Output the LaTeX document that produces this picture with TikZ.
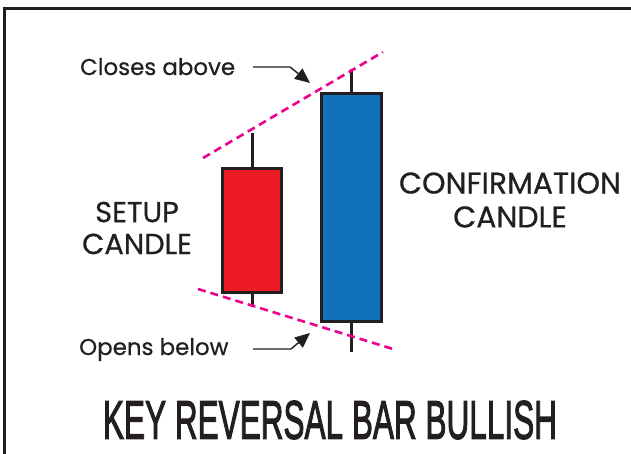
\documentclass[tikz,border=0pt]{standalone}
\usepackage{fontspec}
\usepackage{graphicx}
\setmainfont{Poppins}[FakeBold=0.6]
\newfontfamily\titlefont{Liberation Sans}[FakeBold=2.5]
\usetikzlibrary{arrows.meta}
\definecolor{ink}{HTML}{231F20}
\definecolor{candlered}{HTML}{ED1C24}
\definecolor{candleblue}{HTML}{1172BA}
\definecolor{trend}{HTML}{EC008C}
\begin{document}
\begin{tikzpicture}[x=1bp,y=-1bp,
  body/.style={draw=ink, line width=3bp, inner sep=0pt},
  wick/.style={draw=ink, line width=3bp},
  trendline/.style={draw=trend, line width=2.6bp, dash pattern=on 8bp off 5bp},
  pointer/.style={draw=ink, line width=1.4bp, line join=round, -{Triangle[length=15bp,width=13bp]}},
  smalllabel/.style={text=ink, inner sep=0pt, font=\fontsize{23}{27}\selectfont},
  biglabel/.style={text=ink, inner sep=0pt, align=center}]
\useasboundingbox (0,0) rectangle (631,454);
% frame
\draw[ink, line width=2.5bp] (4.5,454) -- (4.5,8.5) -- (631,8.5);
% candles
\node[body, fill=candlered, minimum width=59bp, minimum height=124bp] (setup) at (252,230.5) {};
\node[body, fill=candleblue, minimum width=60bp, minimum height=228bp] (confirm) at (351.5,207.5) {};
\coordinate (setuptop) at (252,133);
\coordinate (setupbot) at (252,307);
\coordinate (conftop) at (351.5,69);
\coordinate (confbot) at (351.5,352);
\draw[wick] (setuptop) -- (setup.north);
\draw[wick] (setup.south) -- (setupbot);
\draw[wick] (conftop) -- (confirm.north);
\draw[wick] (confirm.south) -- (confbot);
% trend lines
\coordinate (up0) at (203,158);
\coordinate (up1) at (383,52);
\coordinate (lo0) at (198,289);
\coordinate (lo1) at (393,349);
\draw[trendline] (up0) -- (up1);
\draw[trendline] (lo0) -- (lo1);
% labels
\node[smalllabel, anchor=base west] (closes) at (80,75) {Closes above};
\node[smalllabel, anchor=base west] (opens) at (79,355) {Opens below};
\node[biglabel, font=\fontsize{29}{32}\selectfont] (setuplbl) at (137,228) {SETUP\\CANDLE};
\node[biglabel, font=\fontsize{30}{34}\selectfont] (conflbl) at (510,200) {CONFIRMATION\\CANDLE};
% pointers
\coordinate (ca0) at (253,67);
\coordinate (ca1) at (290,67);
\coordinate (catip) at (310,83);
\coordinate (ob0) at (253,349);
\coordinate (ob1) at (291,349);
\coordinate (obtip) at (310,333);
\draw[pointer] (ca0) -- (ca1) -- (catip);
\draw[pointer] (ob0) -- (ob1) -- (obtip);
% title
\node[text=ink, inner sep=0pt] (title) at (330,420) {\resizebox{454bp}{38bp}{\titlefont KEY REVERSAL BAR BULLISH}};
\end{tikzpicture}
\end{document}
